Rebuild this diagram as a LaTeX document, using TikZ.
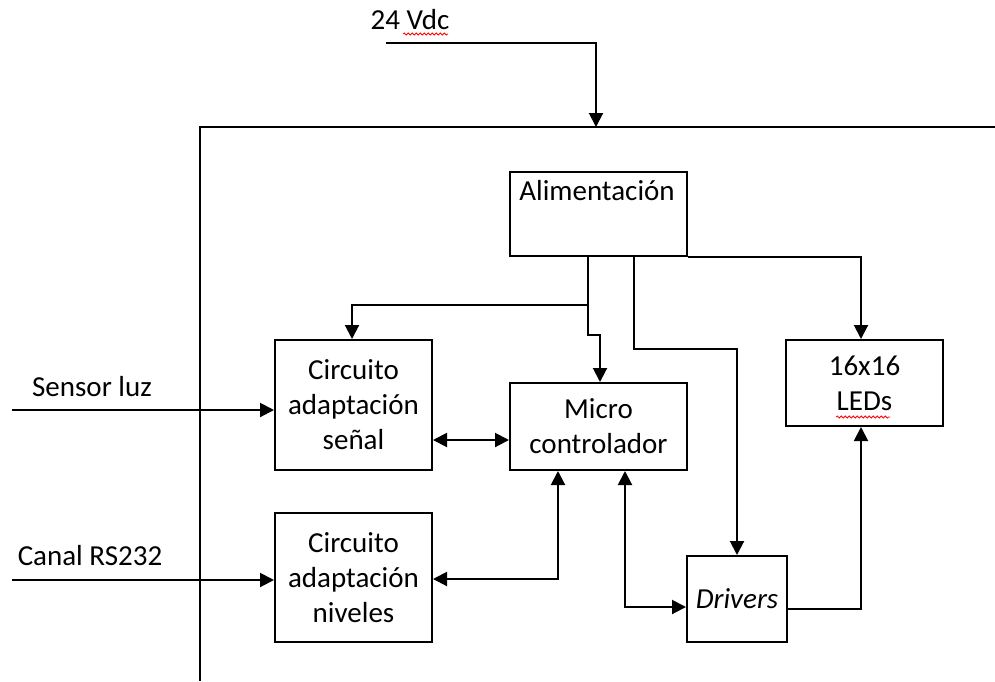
\documentclass[tikz,border=0pt]{standalone}
\usepackage{fontspec}
\setmainfont{Carlito}
\usetikzlibrary{arrows.meta,decorations.pathmorphing}
\begin{document}
\begin{tikzpicture}[x=1pt,y=-1pt,
  box/.style={draw, line width=2pt, inner sep=0pt, font=\fontsize{29}{35}\selectfont, align=center},
  txt/.style={font=\fontsize{29}{35}\selectfont, align=center, inner sep=0pt},
  wire/.style={line width=2pt},
  arr/.style={wire, -{Triangle[length=14pt,width=14pt]}},
  biarr/.style={wire, {Triangle[length=14pt,width=14pt]}-{Triangle[length=14pt,width=14pt]}},
  squig/.style={red, line width=0.8pt, decorate, decoration={snake, amplitude=1pt, segment length=4pt}}]
\useasboundingbox (0,0) rectangle (995,681);

% frame
\coordinate (fr1) at (995,127);
\coordinate (fr2) at (200,127);
\coordinate (fr3) at (200,681);
\draw[wire] (fr1) -- (fr2) -- (fr3);

% boxes
\node[box, minimum width=177pt, minimum height=84pt] (alim) at (598.5,214) {};
\node[txt] (alimt) at (597,191) {Alimentación};
\node[box, minimum width=157pt, minimum height=130pt] (sen) at (353.5,405) {Circuito\\adaptación\\señal};
\node[box, minimum width=177pt, minimum height=87pt] (micro) at (598.5,426.5) {Micro\\controlador};
\node[box, minimum width=157pt, minimum height=129pt] (niv) at (353.5,577.5) {Circuito\\adaptación\\niveles};
\node[box, minimum width=100pt, minimum height=86pt] (drv) at (737,599) {\itshape Drivers};
\node[box, minimum width=157pt, minimum height=86pt] (led) at (864.5,383) {16x16\\LEDs};

% external labels
\node[txt] (vdc) at (410,20) {24 Vdc};
\node[txt] (sl) at (92,387) {Sensor luz};
\node[txt] (rs) at (90,556) {Canal RS232};

% spell-check squiggles
\coordinate (q1a) at (403,34);
\coordinate (q1b) at (448,34);
\coordinate (q2a) at (836,417);
\coordinate (q2b) at (890,417);
\draw[squig] (q1a) -- (q1b);
\draw[squig] (q2a) -- (q2b);

% power input
\coordinate (vin) at (386,43);
\coordinate (vtop) at (596,127);
\draw[arr] (vin) -| (vtop);

% power distribution
\draw[arr] ([xshift=-10.5pt]alim.south) -- ++(0,48) -| ([xshift=-1.5pt]sen.north);
\draw[arr] ([xshift=-10.5pt]alim.south) -- ++(0,78) -| ([xshift=1.5pt]micro.north);
\draw[arr] ([xshift=35.5pt]alim.south) -- ++(0,92) -| (drv.north);
\draw[arr] (alim.south east) -| ([xshift=-3.5pt]led.north);

% signals
\coordinate (s1) at ([yshift=-35pt]sen.east);
\draw[biarr] (s1) -- (s1 -| micro.west);
\draw[biarr] ([xshift=-40.5pt]micro.south) |- ([yshift=-1.5pt]niv.east);
\draw[biarr] ([xshift=26.5pt]micro.south) |- ([yshift=-8pt]drv.west);
\draw[arr] ([yshift=-10pt]drv.east) -| ([xshift=-3.5pt]led.south);

% inputs
\coordinate (sin) at (12,410);
\coordinate (cin) at (12,580);
\draw[arr] (sin) -- (sin -| sen.west);
\draw[arr] (cin) -- (cin -| niv.west);
\end{tikzpicture}
\end{document}
